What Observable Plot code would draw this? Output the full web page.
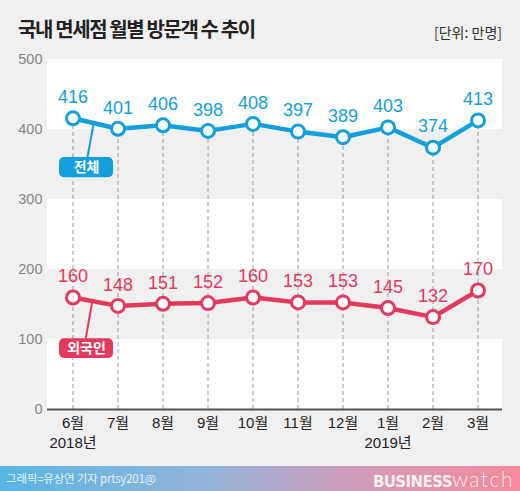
<!DOCTYPE html>
<html><head><meta charset="utf-8">
<script src="https://cdn.jsdelivr.net/npm/d3@7"></script>
<script src="https://cdn.jsdelivr.net/npm/@observablehq/plot@0.6"></script>
<style>
html,body{margin:0;padding:0;background:#f0f0f0;}
body{width:520px;height:491px;overflow:hidden;font-family:"Liberation Sans","Noto Sans CJK KR",sans-serif;}
#head{position:relative;height:48px;}
#title{position:absolute;left:18px;top:14px;font-size:20px;font-weight:bold;color:#222;font-family:"Noto Sans CJK KR",sans-serif;letter-spacing:-1.4px;}
#unit{position:absolute;right:18px;top:22px;font-size:14px;color:#333;font-family:"Noto Sans CJK KR",sans-serif;}
#chart{height:418px;}
#foot{position:relative;height:25px;background:linear-gradient(to right,#57b6e4 0%,#93b3d8 40%,#d49bb8 70%,#f48a9e 100%);}
#credit{position:absolute;left:6px;top:4px;font-size:11.5px;color:rgba(255,255,255,0.85);font-family:"Noto Sans CJK KR",sans-serif;letter-spacing:-0.2px;}
#logo{position:absolute;right:6px;top:0px;color:rgba(255,255,255,0.85);white-space:nowrap;}
#logo b{font-weight:900;letter-spacing:-0.6px;font-size:15px;font-family:"DejaVu Sans",sans-serif;}
#logo span{font-weight:300;font-family:"Lato","DejaVu Sans",sans-serif;font-size:21px;letter-spacing:1.5px;}
</style></head>
<body>
<div id="head"><div id="title">국내 면세점 월별 방문객 수 추이</div><div id="unit">[단위: 만명]</div></div>
<div id="chart"></div>
<div id="foot"><div id="credit">그래픽=유상연 기자 prtsy201@</div><div id="logo"><b>BUSINESS</b><span>watch</span></div></div>
<script>
const months = ["6월","7월","8월","9월","10월","11월","12월","1월","2월","3월"];
const years = [{i:0, label:"2018년"},{i:7, label:"2019년"}];
const total = [416,401,406,398,408,397,389,403,374,413];
const foreign = [160,148,151,152,160,153,153,145,132,170];
const yTicks = [0,100,200,300,400,500];
const whiteBands = [[0,100],[200,300],[400,500]];

const BLUE = "#129fdc", RED = "#e4395f";
const tData = total.map((v,i)=>({i, v}));
const fData = foreign.map((v,i)=>({i, v}));
const bands = whiteBands.map(([a,b])=>({a,b}));

const plot = Plot.plot({
  width: 520, height: 418,
  marginLeft: 47, marginRight: 18, marginTop: 11, marginBottom: 57,
  style: {background: "transparent", fontFamily: "Liberation Sans, Noto Sans CJK KR, sans-serif", fontSize: "14.5px", color: "#858585"},
  x: {domain: [-0.567, 9.544], axis: null},
  y: {domain: [0, 500], ticks: yTicks, tickSize: 0, tickPadding: 5, label: null},
  marks: [
    Plot.rect(bands, {y1: "a", y2: "b", fill: "white"}),
    Plot.ruleX(tData, {x: "i", y1: 0, y2: "v", stroke: "#9a9a9a", strokeWidth: 1, strokeDasharray: "4,3"}),
    Plot.ruleY([0], {stroke: "#555", strokeWidth: 2}),
    Plot.link([{x1:0.32,y1:360,x2:0.46,y2:409}], {x1:"x1",y1:"y1",x2:"x2",y2:"y2", stroke: BLUE, strokeWidth: 2}),
    Plot.link([{x1:0.28,y1:101,x2:0.43,y2:155}], {x1:"x1",y1:"y1",x2:"x2",y2:"y2", stroke: RED, strokeWidth: 2}),
    Plot.line(tData, {x: "i", y: "v", stroke: BLUE, strokeWidth: 4.5}),
    Plot.line(fData, {x: "i", y: "v", stroke: RED, strokeWidth: 4.5}),
    Plot.dot(tData, {x: "i", y: "v", r: 6.5, fill: "white", stroke: BLUE, strokeWidth: 3}),
    Plot.dot(fData, {x: "i", y: "v", r: 6.5, fill: "white", stroke: RED, strokeWidth: 3}),
    Plot.text(tData, {x: "i", y: "v", text: d=>String(d.v), dy: -21, fill: BLUE, fontSize: 18}),
    Plot.text(fData, {x: "i", y: "v", text: d=>String(d.v), dy: -21, fill: RED, fontSize: 18}),
    Plot.rect([{x1:-0.3,x2:0.9,y1:331,y2:360}], {x1:"x1",x2:"x2",y1:"y1",y2:"y2", fill: BLUE, rx: 5}),
    Plot.rect([{x1:-0.3,x2:0.9,y1:73,y2:101}], {x1:"x1",x2:"x2",y1:"y1",y2:"y2", fill: RED, rx: 5}),
    Plot.text([{x:0.3,y:345.5,t:"전체"}], {x:"x", y:"y", text:"t", fill:"white", fontSize: 14, fontWeight: "bold", fontFamily: "Noto Sans CJK KR"}),
    Plot.text([{x:0.3,y:87,t:"외국인"}], {x:"x", y:"y", text:"t", fill:"white", fontSize: 14, fontWeight: "bold", fontFamily: "Noto Sans CJK KR"}),
    Plot.text(months, {x: (d,i)=>i, y: 0, text: d=>d, dy: 14, fill: "#222", fontSize: 15}),
    Plot.text(years, {x: "i", y: 0, text: "label", dy: 34, fill: "#222", fontSize: 15})
  ]
});
document.getElementById("chart").appendChild(plot);
</script>
</body></html>
